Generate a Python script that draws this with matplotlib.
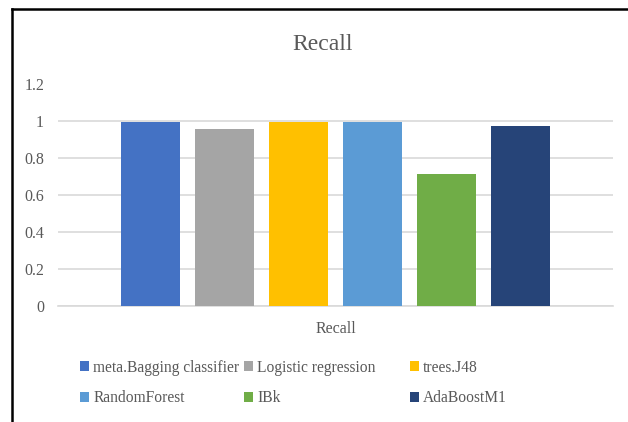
import numpy as np
import matplotlib.pyplot as plt
from matplotlib.lines import Line2D

# Recall per classifier
classifiers = ['meta.Bagging classifier', 'Logistic regression', 'trees.J48',
               'RandomForest', 'IBk', 'AdaBoostM1']
recall = [0.996, 0.956, 0.996, 0.995, 0.716, 0.974]
colors = ['#4472C4', '#A5A5A5', '#FFC000', '#5B9BD5', '#70AD47', '#264478']
yticks = [0, 0.2, 0.4, 0.6, 0.8, 1, 1.2]
ytick_labels = ['0', '0.2', '0.4', '0.6', '0.8', '1', '1.2']

plt.rcParams['font.family'] = ['Liberation Serif', 'DejaVu Serif']
text_color = '#595959'

fig = plt.figure(figsize=(6.28, 4.22), dpi=100)
ax = fig.add_axes([58 / 628, 1 - 305.5 / 422, 555 / 628, 221 / 422])

width = 0.105
step = 0.1333
offsets = (np.arange(len(classifiers)) - (len(classifiers) - 1) / 2) * step
bars = []
for off, val, col, name in zip(offsets, recall, colors, classifiers):
    bars.append(ax.bar(off, val, width, color=col, label=name, zorder=3))

ax.set_xlim(-0.5, 0.5)
ax.set_ylim(0, 1.2)
ax.set_yticks(yticks)
ax.set_yticklabels(ytick_labels, fontsize=11.5, color=text_color)
ax.set_xticks([0])
ax.set_xticklabels(['Recall'], fontsize=11.5, color=text_color)
ax.tick_params(axis='both', length=0)
ax.tick_params(axis='y', pad=10)
ax.tick_params(axis='x', pad=11)
ax.grid(axis='y', color='#D9D9D9', linewidth=1.2, zorder=0)
for side in ['top', 'right', 'left']:
    ax.spines[side].set_visible(False)
ax.spines['bottom'].set_color('#D9D9D9')
ax.spines['bottom'].set_linewidth(1.2)

fig.text(323 / 628, 1 - 44 / 422, 'Recall', ha='center', va='center',
         fontsize=17, color=text_color)

# legend: three fixed-width columns, filled row by row
col_x = [80, 244, 410]
for c, x in enumerate(col_x):
    idx = [c, c + 3]
    leg = fig.legend([bars[i] for i in idx], [classifiers[i] for i in idx],
                     loc='center left', bbox_to_anchor=(x / 628, 1 - 383 / 422),
                     frameon=False, fontsize=11.2, handlelength=0.55,
                     handleheight=0.55, handletextpad=0.3, labelspacing=0.95,
                     borderpad=0, borderaxespad=0)
    for t in leg.get_texts():
        t.set_color(text_color)

# chart border
fig.add_artist(Line2D([12 / 628, 1.0], [1 - 9 / 422] * 2, color='black',
                      linewidth=1.8, transform=fig.transFigure))
fig.add_artist(Line2D([12 / 628] * 2, [0, 1 - 9 / 422], color='black',
                      linewidth=1.8, transform=fig.transFigure))

fig.savefig('out.png', dpi=100)
